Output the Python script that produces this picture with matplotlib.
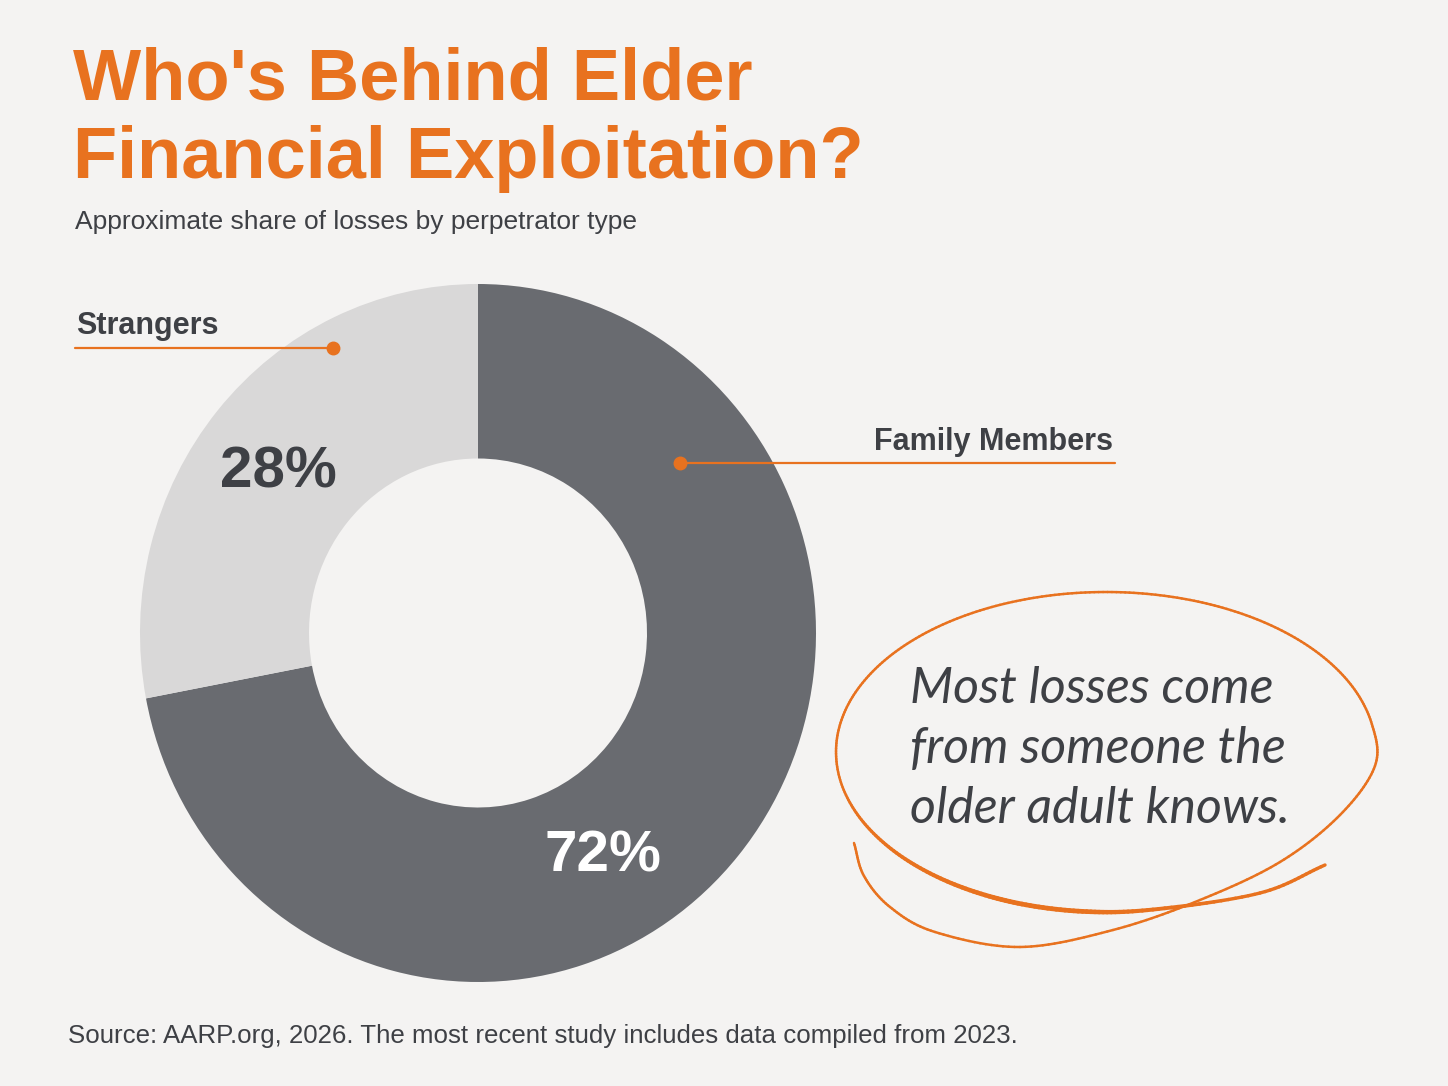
import numpy as np
import matplotlib
matplotlib.use("Agg")
import matplotlib.pyplot as plt
from matplotlib.collections import LineCollection

# ---- data ----
categories = ["Family Members", "Strangers"]
shares = [72, 28]
pct_labels = ["72%", "28%"]
title = "Who's Behind Elder\nFinancial Exploitation?"
subtitle = "Approximate share of losses by perpetrator type"
note = "Most losses come\nfrom someone the\nolder adult knows."
source = "Source: AARP.org, 2026. The most recent study includes data compiled from 2023."

# ---- style ----
BG = "#f4f3f2"
ORANGE = "#e8721f"
DARK = "#3e4045"
WEDGE_COLORS = ["#696b70", "#d9d8d8"]
W, H = 1448, 1086

fig = plt.figure(figsize=(W / 100, H / 100), dpi=100, facecolor=BG)

# donut axes (pixel box: center 478,633 ; rx 338, ry 349)
cx, cy, rx, ry = 478, 633, 338, 349
ax = fig.add_axes([(cx - rx) / W, (H - cy - ry) / H, 2 * rx / W, 2 * ry / H])
ax.set_facecolor("none")
wedges, _ = ax.pie(shares, colors=WEDGE_COLORS, startangle=90, counterclock=False,
                   radius=1.0, wedgeprops=dict(width=0.5, edgecolor="none"))
ax.set_aspect("auto")
ax.set_xlim(-1, 1)
ax.set_ylim(-1, 1)
ax.axis("off")

# percentage labels placed along each wedge (baseline anchored)
label_polar = [(0.776, -61.5), (0.723, 144.9)]
label_colors = ["white", DARK]
for lbl, (r, ang), col in zip(pct_labels, label_polar, label_colors):
    a = np.deg2rad(ang)
    ax.text(r * np.cos(a), r * np.sin(a), lbl, ha="center", va="baseline",
            fontsize=42, fontweight="bold", color=col, family="Liberation Sans")

# overlay axes in pixel coordinates for annotations
ov = fig.add_axes([0, 0, 1, 1], zorder=5)
ov.set_xlim(0, W)
ov.set_ylim(H, 0)
ov.axis("off")
ov.patch.set_alpha(0)

# title / subtitle / source
ov.text(73, 100, title.split("\n")[0], fontsize=52, fontweight="bold", color=ORANGE,
        family="Liberation Sans", va="baseline")
ov.text(73, 178, title.split("\n")[1], fontsize=52, fontweight="bold", color=ORANGE,
        family="Liberation Sans", va="baseline")
ov.text(75, 229, subtitle, fontsize=19, color=DARK, family="Liberation Sans", va="baseline")
ov.text(68, 1043, source, fontsize=18.6, color=DARK, family="Liberation Sans", va="baseline")

# category callouts
ov.text(76, 334, categories[1], fontsize=22, fontweight="bold", color=DARK,
        family="Liberation Sans", va="baseline")
ov.plot([75, 333], [348, 348], color=ORANGE, lw=1.6, solid_capstyle="round")
ov.plot([333], [348], "o", color=ORANGE, ms=9)

ov.text(1113, 450, categories[0], fontsize=22, fontweight="bold", color=DARK,
        family="Liberation Sans", va="baseline", ha="right")
ov.plot([680, 1115], [463, 463], color=ORANGE, lw=1.6, solid_capstyle="round")
ov.plot([680], [463], "o", color=ORANGE, ms=9)

# handwritten-style note
for i, line in enumerate(note.split("\n")):
    ov.text(910, 703 + 60 * i, line, fontsize=36, color=DARK, family=["Lato", "DejaVu Sans"],
            style="italic", fontweight="normal", va="baseline")

# hand-drawn loop: tail, ellipse body, flared end (Catmull-Rom through guide points)
ecx, ecy, ea, eb = 1106, 752, 270, 160
tail = [(854, 843), (864, 876), (890, 907), (935, 932), (1020, 947), (1113, 930),
        (1200, 900), (1280, 862), (1340, 815)]
body = [(ecx + ea * np.cos(np.deg2rad(t)), ecy + eb * np.sin(np.deg2rad(t)))
        for t in np.arange(5, -286, -15)]
end = [(1260, 893), (1325, 865)]
guide = np.array(tail + body + end, float)
pts = np.vstack([2 * guide[0] - guide[1], guide, 2 * guide[-1] - guide[-2]])
curve = []
for k in range(1, len(pts) - 2):
    p0, p1, p2, p3 = pts[k - 1], pts[k], pts[k + 1], pts[k + 2]
    for t in np.linspace(0, 1, 16, endpoint=False):
        t2, t3 = t * t, t * t * t
        curve.append(0.5 * ((2 * p1) + (-p0 + p2) * t + (2 * p0 - 5 * p1 + 4 * p2 - p3) * t2
                            + (-p0 + 3 * p1 - 3 * p2 + p3) * t3))
curve.append(guide[-1])
curve = np.array(curve)
segs = np.stack([curve[:-1], curve[1:]], axis=1)
n = len(segs)
u = np.linspace(0, 1, n)
widths = 1.8 + 1.6 * np.clip((u - 0.74) / 0.12, 0, 1) * np.clip((1.0 - u) / 0.1, 0.4, 1)
lc = LineCollection(segs, colors=ORANGE, linewidths=widths, capstyle="round")
ov.add_collection(lc)

fig.savefig("out.png", dpi=100, facecolor=BG)
